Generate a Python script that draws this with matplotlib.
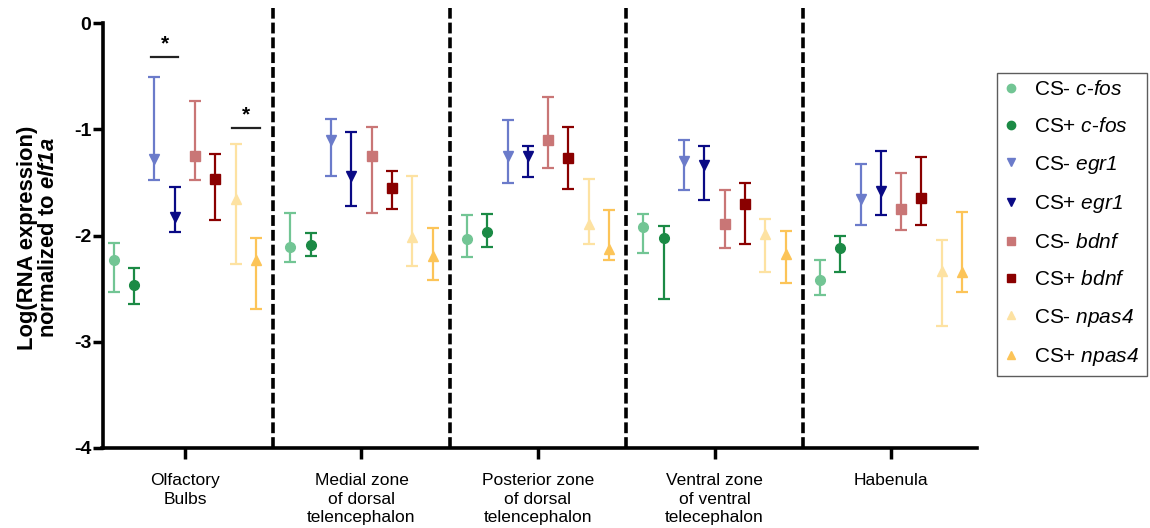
"""Relative RNA expression of IEGs across brain regions (CS- vs CS+)."""

import matplotlib

matplotlib.use("Agg")
import matplotlib.pyplot as plt
import numpy as np
from matplotlib.lines import Line2D

plt.rcParams["font.family"] = ["Liberation Sans", "DejaVu Sans"]
plt.rcParams["mathtext.fontset"] = "custom"
# digits inside \mathit fall back to the rm font, so keep rm italic too
plt.rcParams["mathtext.rm"] = "Liberation Sans:italic"
plt.rcParams["mathtext.it"] = "Liberation Sans:italic"
plt.rcParams["mathtext.bf"] = "Liberation Sans:bold"
plt.rcParams["mathtext.bfit"] = "Liberation Sans:italic:bold"

regions = [
    "Olfactory\nBulbs",
    "Medial zone\nof dorsal\ntelencephalon",
    "Posterior zone\nof dorsal\ntelencephalon",
    "Ventral zone\nof ventral\ntelecephalon",
    "Habenula",
]

series_labels = [
    r"CS- $\mathit{c}$-$\mathit{fos}$",
    r"CS+ $\mathit{c}$-$\mathit{fos}$",
    r"CS- $\mathit{egr1}$",
    r"CS+ $\mathit{egr1}$",
    r"CS- $\mathit{bdnf}$",
    r"CS+ $\mathit{bdnf}$",
    r"CS- $\mathit{npas4}$",
    r"CS+ $\mathit{npas4}$",
]

# mean / upper / lower per series, one value per region
cfos_minus = [-2.23, -2.11, -2.03, -1.92, -2.42]
cfos_minus_hi = [-2.07, -1.79, -1.81, -1.80, -2.235]
cfos_minus_lo = [-2.53, -2.25, -2.20, -2.16, -2.56]

cfos_plus = [-2.47, -2.085, -1.97, -2.02, -2.115]
cfos_plus_hi = [-2.31, -1.98, -1.80, -1.91, -2.00]
cfos_plus_lo = [-2.64, -2.19, -2.11, -2.60, -2.34]

egr1_minus = [-1.28, -1.10, -1.25, -1.30, -1.66]
egr1_minus_hi = [-0.51, -0.90, -0.91, -1.105, -1.33]
egr1_minus_lo = [-1.48, -1.44, -1.51, -1.575, -1.90]

egr1_plus = [-1.83, -1.44, -1.25, -1.34, -1.58]
egr1_plus_hi = [-1.54, -1.03, -1.16, -1.155, -1.20]
egr1_plus_lo = [-1.97, -1.72, -1.45, -1.67, -1.81]

bdnf_minus = [-1.255, -1.25, -1.105, -1.89, -1.75]
bdnf_minus_hi = [-0.73, -0.98, -0.70, -1.575, -1.41]
bdnf_minus_lo = [-1.48, -1.79, -1.36, -2.12, -1.95]

bdnf_plus = [-1.47, -1.55, -1.27, -1.70, -1.65]
bdnf_plus_hi = [-1.23, -1.39, -0.98, -1.505, -1.265]
bdnf_plus_lo = [-1.85, -1.75, -1.56, -2.08, -1.90]

npas4_minus = [-1.66, -2.01, -1.89, -1.99, -2.335]
npas4_minus_hi = [-1.14, -1.44, -1.47, -1.84, -2.04]
npas4_minus_lo = [-2.27, -2.29, -2.08, -2.345, -2.85]

npas4_plus = [-2.23, -2.19, -2.13, -2.17, -2.345]
npas4_plus_hi = [-2.02, -1.93, -1.76, -1.96, -1.775]
npas4_plus_lo = [-2.69, -2.42, -2.23, -2.45, -2.53]

means = [cfos_minus, cfos_plus, egr1_minus, egr1_plus,
         bdnf_minus, bdnf_plus, npas4_minus, npas4_plus]
uppers = [cfos_minus_hi, cfos_plus_hi, egr1_minus_hi, egr1_plus_hi,
          bdnf_minus_hi, bdnf_plus_hi, npas4_minus_hi, npas4_plus_hi]
lowers = [cfos_minus_lo, cfos_plus_lo, egr1_minus_lo, egr1_plus_lo,
          bdnf_minus_lo, bdnf_plus_lo, npas4_minus_lo, npas4_plus_lo]

colors = ["#72c594", "#1b8a45", "#6b7bca", "#0a0a85",
          "#c97676", "#8a0000", "#fde2a2", "#fcc458"]
markers = ["o", "o", "v", "v", "s", "s", "^", "^"]

# significance: (region, series a, series b, bar height)
sig_region = [0, 0]
sig_pairs = [(2, 3), (6, 7)]
sig_levels = [-0.32, -0.985]

spacing = 0.115
x = np.arange(len(regions))

fig = plt.figure(figsize=(11.5, 5.28), dpi=100)
ax = fig.add_axes([102.5 / 1150, 1 - 448 / 528, (977 - 102.5) / 1150, (448 - 23) / 528])

for i in range(len(means)):
    xs = x + (i - 3.5) * spacing
    m = np.array(means[i])
    hi = np.array(uppers[i]) - m
    lo = m - np.array(lowers[i])
    ax.errorbar(xs, m, yerr=[lo, hi], fmt=markers[i], color=colors[i],
                ecolor=colors[i], markersize=7, elinewidth=1.6,
                capsize=4, capthick=1.6, zorder=3)

for r, (a, b), lvl in zip(sig_region, sig_pairs, sig_levels):
    xa = x[r] + (a - 3.5) * spacing - 0.02
    xb = x[r] + (b - 3.5) * spacing + 0.02
    ax.plot([xa, xb], [lvl, lvl], color="#222222", lw=1.6, zorder=3)
    ax.text((xa + xb) / 2, lvl + 0.03, "*", ha="center", va="bottom",
            fontsize=15, fontweight="bold")

for sep in x[:-1] + 0.5:
    ax.plot([sep, sep], [-4, 0.14], color="black", lw=2.6,
            dashes=(3.0, 1.1), clip_on=False, zorder=2)

ax.set_xlim(-0.467, 4.487)
ax.set_ylim(-4, 0)
ax.set_yticks([0, -1, -2, -3, -4])
ax.set_yticklabels(["0", "-1", "-2", "-3", "-4"], fontsize=14, fontweight="bold")
ax.set_xticks(x)
ax.set_xticklabels(regions, fontsize=12.5, linespacing=1.3)
ax.tick_params(axis="y", direction="out", length=7, width=2.5, pad=1)
ax.tick_params(axis="x", direction="out", length=8, width=2.5, pad=10)
for side in ["top", "right"]:
    ax.spines[side].set_visible(False)
for side in ["left", "bottom"]:
    ax.spines[side].set_linewidth(2.6)

fig.text(38 / 1150, 1 - 238 / 528,
         "Log(RNA expression)\nnormalized to $\\mathbfit{elf1a}$",
         rotation=90, ha="center", va="center", fontsize=15.8,
         fontweight="bold", multialignment="center", linespacing=1.05)

handles = [
    Line2D([], [], linestyle="none", marker=markers[i], color=colors[i], markersize=6)
    for i in range(len(means))
]
leg = fig.legend(handles, series_labels, loc="upper left",
                 bbox_to_anchor=(997 / 1150, 1 - 73 / 528), frameon=True,
                 fancybox=False, fontsize=15, labelspacing=0.85,
                 handlelength=0.6, handletextpad=0.85, borderpad=0.35,
                 borderaxespad=0)
leg.get_frame().set_edgecolor("#333333")
leg.get_frame().set_linewidth(1.0)

fig.savefig("out.png", dpi=100)
